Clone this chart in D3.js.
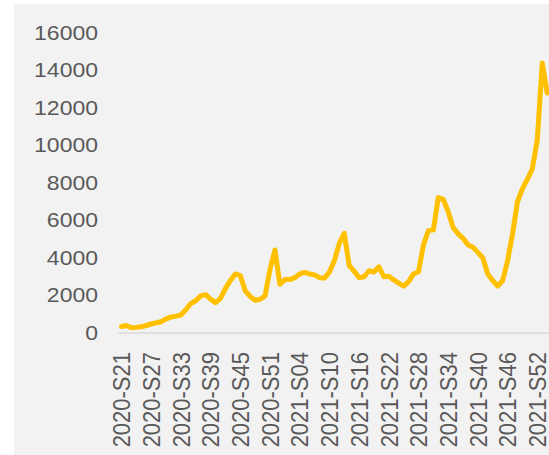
<!DOCTYPE html>
<html>
<head>
<meta charset="utf-8">
<script src="https://cdn.jsdelivr.net/npm/d3@7"></script>
<style>
  html, body { margin: 0; padding: 0; background: #ffffff; }
  svg { display: block; }
  text { font-family: "Liberation Sans", Arial, sans-serif; fill: #595959; }
</style>
</head>
<body>
<svg id="chart" width="549" height="455"></svg>
<script>
const weeks = [
  "2020-S21","2020-S22","2020-S23","2020-S24","2020-S25","2020-S26","2020-S27","2020-S28","2020-S29","2020-S30",
  "2020-S31","2020-S32","2020-S33","2020-S34","2020-S35","2020-S36","2020-S37","2020-S38","2020-S39","2020-S40",
  "2020-S41","2020-S42","2020-S43","2020-S44","2020-S45","2020-S46","2020-S47","2020-S48","2020-S49","2020-S50",
  "2020-S51","2020-S52","2020-S53",
  "2021-S01","2021-S02","2021-S03","2021-S04","2021-S05","2021-S06","2021-S07","2021-S08","2021-S09","2021-S10",
  "2021-S11","2021-S12","2021-S13","2021-S14","2021-S15","2021-S16","2021-S17","2021-S18","2021-S19","2021-S20",
  "2021-S21","2021-S22","2021-S23","2021-S24","2021-S25","2021-S26","2021-S27","2021-S28","2021-S29","2021-S30",
  "2021-S31","2021-S32","2021-S33","2021-S34","2021-S35","2021-S36","2021-S37","2021-S38","2021-S39","2021-S40",
  "2021-S41","2021-S42","2021-S43","2021-S44","2021-S45","2021-S46","2021-S47","2021-S48","2021-S49","2021-S50",
  "2021-S51","2021-S52",
  "2022-S01","2022-S02"
];
const values = [
  350, 400, 280, 300, 330, 400, 480, 550, 600, 750,
  850, 900, 960, 1240, 1570, 1720, 1980, 2050, 1800, 1620,
  1850, 2380, 2800, 3150, 3060, 2250, 1950, 1750, 1800, 1980,
  3400, 4430, 2600,
  2850, 2850, 2950, 3150, 3230, 3150, 3100, 2950, 2930, 3250,
  3850, 4780, 5320, 3600, 3300, 2950, 3000, 3320, 3250, 3530,
  3000, 3030, 2830, 2660, 2500, 2740, 3150, 3270, 4700, 5460,
  5500, 7220, 7130, 6470, 5620, 5300, 5050, 4700, 4570, 4300,
  4000, 3150, 2800, 2500, 2800, 3850, 5300, 7000, 7700, 8200,
  8750, 10300,
  14400, 12800
];
const yTicks = [0, 2000, 4000, 6000, 8000, 10000, 12000, 14000, 16000];
const xTickLabels = weeks.filter((d, i) => i % 6 === 0);

const svg = d3.select("#chart");

// panel background
svg.append("rect")
  .attr("x", 14).attr("y", 4)
  .attr("width", 549 - 14).attr("height", 455 - 4)
  .attr("fill", "#f2f2f2");

const x = d3.scalePoint().domain(weeks).range([121.5, 547.2]);
const y = d3.scaleLinear().domain([0, 16000]).range([333, 33]);

// y axis labels
const yAxis = d3.axisLeft(y).tickValues(yTicks).tickFormat(d3.format("d")).tickSize(0).tickPadding(0);
const yg = svg.append("g").attr("transform", "translate(98,0)").call(yAxis);
yg.select(".domain").remove();
yg.selectAll(".tick").attr("transform", null);
yg.selectAll(".tick text")
  .attr("x", 0).attr("dy", null)
  .attr("dominant-baseline", "central")
  .attr("text-anchor", "end")
  .style("font-size", "20px")
  .style("font-family", "'Liberation Sans', Arial, sans-serif")
  .attr("fill", "#595959")
  .attr("transform", d => `translate(0,${y(d)}) scale(1.15,1)`);

// x axis line
svg.append("line")
  .attr("x1", 118).attr("x2", 549)
  .attr("y1", 333).attr("y2", 333)
  .attr("stroke", "#d9d9d9").attr("stroke-width", 1.5);

// x axis labels
const xAxis = d3.axisBottom(x).tickValues(xTickLabels).tickSize(0).tickPadding(0);
const xg = svg.append("g").attr("transform", "translate(0,352)").call(xAxis);
xg.select(".domain").remove();
xg.selectAll(".tick text")
  .attr("x", 0).attr("y", 0).attr("dy", null)
  .attr("dominant-baseline", "central")
  .attr("text-anchor", "end")
  .style("font-size", "22px")
  .style("font-family", "'Liberation Sans', Arial, sans-serif")
  .attr("fill", "#595959")
  .attr("transform", "scale(1.06,1) rotate(-90)");

// line
const line = d3.line()
  .x((d, i) => x(weeks[i]))
  .y(d => y(d));

svg.append("path")
  .datum(values)
  .attr("d", line)
  .attr("fill", "none")
  .attr("stroke", "#ffc000")
  .attr("stroke-width", 5)
  .attr("stroke-linejoin", "round")
  .attr("stroke-linecap", "round");
</script>
</body>
</html>
